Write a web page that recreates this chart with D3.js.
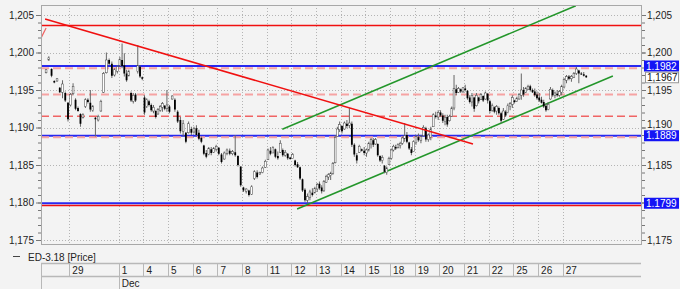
<!DOCTYPE html>
<html>
<head>
<meta charset="utf-8">
<script src="https://cdn.jsdelivr.net/npm/d3@7"></script>
<style>
  body { margin: 0; background: #f3f3f3; }
  svg { display: block; font-family: "Liberation Sans", Arial, sans-serif; }
</style>
</head>
<body>
<svg id="chart" width="680" height="289"></svg>
<script>
// trading days shown (first is partial, "30" has no label on the axis)
const dayLabels = ["28", "29", "30", "1", "4", "5", "6", "7", "8", "11", "12", "13", "14", "15", "18", "19", "20", "21", "22", "25", "26", "27"];
const dayCounts = [9, 10, 9, 11, 11, 9, 10, 9, 9, 10, 10, 11, 10, 11, 11, 10, 11, 11, 11, 11, 11, 10];
const hiddenDays = ["28", "30"];
const monthLabel = "Dec";
const monthDay = "1";

const open = [
  1.1973, 1.1990, 1.1978, 1.1962, 1.1962, 1.1953, 1.1947, 1.1946, 1.1933,
  1.1930, 1.1945, 1.1937, 1.1926, 1.1918, 1.1913, 1.1928, 1.1937, 1.1933, 1.1923,
  1.1913, 1.1910, 1.1922, 1.1947, 1.1973, 1.1990, 1.1985, 1.1970, 1.1975,
  1.1982, 1.1990, 1.1983, 1.1972, 1.1969, 1.1946, 1.1935, 1.1944, 1.1975, 1.1981, 1.1967,
  1.1940, 1.1928, 1.1935, 1.1930, 1.1922, 1.1922, 1.1918, 1.1923, 1.1927, 1.1929, 1.1925,
  1.1928, 1.1938, 1.1937, 1.1921, 1.1910, 1.1895, 1.1893, 1.1893, 1.1898,
  1.1894, 1.1899, 1.1893, 1.1886, 1.1876, 1.1866, 1.1864, 1.1871, 1.1867, 1.1871,
  1.1873, 1.1864, 1.1858, 1.1865, 1.1869, 1.1865, 1.1867, 1.1862, 1.1848,
  1.1820, 1.1815, 1.1816, 1.1811, 1.1832, 1.1840, 1.1838, 1.1840, 1.1847,
  1.1857, 1.1869, 1.1866, 1.1871, 1.1862, 1.1867, 1.1870, 1.1863, 1.1865, 1.1860,
  1.1859, 1.1856, 1.1851, 1.1847, 1.1831, 1.1817, 1.1803, 1.1807, 1.1813, 1.1813,
  1.1818, 1.1825, 1.1820, 1.1816, 1.1827, 1.1834, 1.1836, 1.1839, 1.1853, 1.1888, 1.1897,
  1.1902, 1.1898, 1.1905, 1.1903, 1.1905, 1.1877, 1.1863, 1.1867, 1.1871, 1.1869,
  1.1866, 1.1870, 1.1878, 1.1883, 1.1878, 1.1878, 1.1862, 1.1856, 1.1849, 1.1840, 1.1851,
  1.1859, 1.1870, 1.1874, 1.1873, 1.1876, 1.1879, 1.1885, 1.1890, 1.1880, 1.1871, 1.1868,
  1.1880, 1.1887, 1.1883, 1.1889, 1.1899, 1.1884, 1.1887, 1.1901, 1.1916, 1.1914,
  1.1920, 1.1916, 1.1908, 1.1914, 1.1909, 1.1915, 1.1926, 1.1951, 1.1947, 1.1951, 1.1948,
  1.1952, 1.1949, 1.1940, 1.1934, 1.1940, 1.1929, 1.1940, 1.1937, 1.1942, 1.1938, 1.1945,
  1.1935, 1.1923, 1.1927, 1.1922, 1.1926, 1.1919, 1.1911, 1.1921, 1.1920, 1.1928, 1.1931,
  1.1936, 1.1935, 1.1938, 1.1943, 1.1950, 1.1947, 1.1951, 1.1955, 1.1950, 1.1948, 1.1944,
  1.1940, 1.1937, 1.1934, 1.1929, 1.1924, 1.1938, 1.1950, 1.1943, 1.1945, 1.1943, 1.1947,
  1.1954, 1.1963, 1.1968, 1.1965, 1.1967, 1.1972, 1.1976, 1.1972, 1.1971, 1.1969
];
const high = [
  1.1978, 1.1995, 1.1979, 1.1963, 1.1966, 1.1954, 1.1963, 1.1948, 1.1934,
  1.1946, 1.1959, 1.1939, 1.1928, 1.1919, 1.1919, 1.1939, 1.1939, 1.1950, 1.1930,
  1.1914, 1.1917, 1.1937, 1.1974, 1.2000, 1.1992, 1.1988, 1.1979, 1.1983,
  1.1994, 1.2012, 1.1999, 1.1977, 1.1977, 1.1948, 1.1946, 1.1946, 1.2010, 1.1983, 1.1968,
  1.1943, 1.1939, 1.1937, 1.1932, 1.1930, 1.1923, 1.1926, 1.1930, 1.1934, 1.1930, 1.1950,
  1.1930, 1.1943, 1.1939, 1.1923, 1.1914, 1.1910, 1.1894, 1.1908, 1.1901,
  1.1901, 1.1903, 1.1897, 1.1888, 1.1877, 1.1870, 1.1874, 1.1874, 1.1874, 1.1877,
  1.1874, 1.1866, 1.1868, 1.1872, 1.1872, 1.1870, 1.1890, 1.1863, 1.1848,
  1.1821, 1.1819, 1.1817, 1.1823, 1.1843, 1.1843, 1.1841, 1.1848, 1.1857,
  1.1872, 1.1874, 1.1875, 1.1872, 1.1868, 1.1883, 1.1872, 1.1870, 1.1866, 1.1861,
  1.1866, 1.1857, 1.1854, 1.1848, 1.1832, 1.1819, 1.1812, 1.1817, 1.1819, 1.1821,
  1.1826, 1.1828, 1.1823, 1.1830, 1.1837, 1.1839, 1.1841, 1.1854, 1.1890, 1.1901, 1.1908,
  1.1903, 1.1908, 1.1910, 1.1926, 1.1908, 1.1879, 1.1866, 1.1877, 1.1872, 1.1874,
  1.1872, 1.1881, 1.1886, 1.1886, 1.1886, 1.1879, 1.1863, 1.1863, 1.1850, 1.1848, 1.1861,
  1.1872, 1.1877, 1.1877, 1.1879, 1.1881, 1.1888, 1.1906, 1.1894, 1.1881, 1.1874, 1.1883,
  1.1890, 1.1892, 1.1890, 1.1903, 1.1901, 1.1892, 1.1901, 1.1919, 1.1921, 1.1923,
  1.1923, 1.1919, 1.1917, 1.1917, 1.1917, 1.1928, 1.1970, 1.1957, 1.1954, 1.1952, 1.1954,
  1.1957, 1.1950, 1.1943, 1.1946, 1.1941, 1.1946, 1.1941, 1.1946, 1.1943, 1.1948, 1.1946,
  1.1937, 1.1932, 1.1928, 1.1930, 1.1928, 1.1921, 1.1926, 1.1923, 1.1932, 1.1934, 1.1943,
  1.1937, 1.1941, 1.1946, 1.1972, 1.1954, 1.1954, 1.1957, 1.1957, 1.1952, 1.1952, 1.1948,
  1.1946, 1.1941, 1.1937, 1.1932, 1.1934, 1.1954, 1.1952, 1.1948, 1.1950, 1.1950, 1.1957,
  1.1966, 1.1970, 1.1970, 1.1970, 1.1974, 1.1981, 1.1977, 1.1974, 1.1974, 1.1970
];
const low = [
  1.1972, 1.1989, 1.1967, 1.1959, 1.1961, 1.1946, 1.1939, 1.1934, 1.1908,
  1.1928, 1.1943, 1.1923, 1.1921, 1.1901, 1.1912, 1.1926, 1.1932, 1.1921, 1.1921,
  1.1888, 1.1908, 1.1921, 1.1946, 1.1972, 1.1983, 1.1966, 1.1968, 1.1972,
  1.1981, 1.1979, 1.1968, 1.1961, 1.1968, 1.1934, 1.1932, 1.1934, 1.1972, 1.1966, 1.1963,
  1.1917, 1.1926, 1.1928, 1.1921, 1.1919, 1.1912, 1.1917, 1.1921, 1.1921, 1.1923, 1.1921,
  1.1919, 1.1937, 1.1921, 1.1906, 1.1892, 1.1888, 1.1879, 1.1892, 1.1890,
  1.1892, 1.1888, 1.1883, 1.1879, 1.1863, 1.1859, 1.1863, 1.1863, 1.1866, 1.1868,
  1.1863, 1.1852, 1.1857, 1.1863, 1.1863, 1.1863, 1.1861, 1.1848, 1.1821,
  1.1814, 1.1812, 1.1808, 1.1810, 1.1830, 1.1832, 1.1837, 1.1839, 1.1846,
  1.1857, 1.1863, 1.1866, 1.1859, 1.1857, 1.1866, 1.1861, 1.1861, 1.1857, 1.1857,
  1.1859, 1.1848, 1.1846, 1.1830, 1.1814, 1.1801, 1.1799, 1.1803, 1.1808, 1.1812,
  1.1814, 1.1817, 1.1812, 1.1814, 1.1826, 1.1830, 1.1830, 1.1837, 1.1852, 1.1888, 1.1894,
  1.1892, 1.1897, 1.1899, 1.1899, 1.1874, 1.1861, 1.1852, 1.1866, 1.1868, 1.1863,
  1.1861, 1.1868, 1.1872, 1.1874, 1.1877, 1.1861, 1.1854, 1.1852, 1.1839, 1.1837, 1.1850,
  1.1857, 1.1868, 1.1870, 1.1872, 1.1872, 1.1877, 1.1881, 1.1879, 1.1870, 1.1863, 1.1868,
  1.1877, 1.1881, 1.1879, 1.1888, 1.1881, 1.1881, 1.1883, 1.1901, 1.1912, 1.1910,
  1.1914, 1.1906, 1.1903, 1.1901, 1.1908, 1.1914, 1.1923, 1.1943, 1.1946, 1.1946, 1.1946,
  1.1948, 1.1937, 1.1932, 1.1928, 1.1921, 1.1928, 1.1932, 1.1937, 1.1934, 1.1937, 1.1932,
  1.1919, 1.1921, 1.1919, 1.1917, 1.1917, 1.1906, 1.1910, 1.1914, 1.1919, 1.1923, 1.1926,
  1.1932, 1.1934, 1.1937, 1.1937, 1.1941, 1.1946, 1.1950, 1.1948, 1.1946, 1.1941, 1.1937,
  1.1934, 1.1932, 1.1926, 1.1921, 1.1923, 1.1937, 1.1941, 1.1939, 1.1941, 1.1941, 1.1943,
  1.1952, 1.1959, 1.1963, 1.1961, 1.1966, 1.1970, 1.1959, 1.1970, 1.1968, 1.1966
];
const close = [
  1.1977, 1.1993, 1.1969, 1.1960, 1.1965, 1.1947, 1.1958, 1.1936, 1.1911,
  1.1944, 1.1955, 1.1925, 1.1922, 1.1905, 1.1917, 1.1937, 1.1934, 1.1924, 1.1928,
  1.1911, 1.1915, 1.1935, 1.1972, 1.1990, 1.1985, 1.1969, 1.1977, 1.1981,
  1.1991, 1.1982, 1.1972, 1.1963, 1.1975, 1.1936, 1.1943, 1.1936, 1.1983, 1.1968, 1.1965,
  1.1920, 1.1937, 1.1930, 1.1923, 1.1927, 1.1914, 1.1924, 1.1928, 1.1932, 1.1925, 1.1930,
  1.1921, 1.1942, 1.1924, 1.1908, 1.1895, 1.1905, 1.1881, 1.1905, 1.1893,
  1.1899, 1.1890, 1.1885, 1.1881, 1.1865, 1.1861, 1.1872, 1.1866, 1.1872, 1.1875,
  1.1865, 1.1854, 1.1866, 1.1870, 1.1865, 1.1868, 1.1863, 1.1850, 1.1823,
  1.1816, 1.1818, 1.1810, 1.1821, 1.1841, 1.1834, 1.1840, 1.1846, 1.1855,
  1.1870, 1.1865, 1.1873, 1.1861, 1.1859, 1.1879, 1.1863, 1.1867, 1.1859, 1.1858,
  1.1864, 1.1850, 1.1847, 1.1832, 1.1816, 1.1803, 1.1808, 1.1814, 1.1810, 1.1819,
  1.1824, 1.1819, 1.1815, 1.1828, 1.1835, 1.1837, 1.1839, 1.1852, 1.1887, 1.1898, 1.1904,
  1.1895, 1.1906, 1.1902, 1.1906, 1.1877, 1.1864, 1.1856, 1.1875, 1.1869, 1.1866,
  1.1870, 1.1879, 1.1884, 1.1877, 1.1884, 1.1863, 1.1856, 1.1860, 1.1841, 1.1846, 1.1859,
  1.1870, 1.1875, 1.1872, 1.1877, 1.1879, 1.1886, 1.1889, 1.1881, 1.1872, 1.1866, 1.1881,
  1.1888, 1.1883, 1.1888, 1.1900, 1.1884, 1.1890, 1.1898, 1.1917, 1.1914, 1.1920,
  1.1916, 1.1909, 1.1913, 1.1904, 1.1915, 1.1926, 1.1952, 1.1946, 1.1952, 1.1948, 1.1953,
  1.1950, 1.1939, 1.1934, 1.1943, 1.1925, 1.1943, 1.1935, 1.1944, 1.1936, 1.1946, 1.1936,
  1.1922, 1.1929, 1.1921, 1.1928, 1.1919, 1.1909, 1.1922, 1.1916, 1.1929, 1.1932, 1.1940,
  1.1934, 1.1939, 1.1944, 1.1950, 1.1944, 1.1952, 1.1955, 1.1950, 1.1947, 1.1943, 1.1939,
  1.1936, 1.1933, 1.1928, 1.1923, 1.1931, 1.1951, 1.1943, 1.1946, 1.1943, 1.1948, 1.1955,
  1.1964, 1.1968, 1.1965, 1.1968, 1.1972, 1.1978, 1.1972, 1.1971, 1.1969, 1.1967
];

// horizontal drawing levels and their kind
const levelValues = [1.2036, 1.1982, 1.1979, 1.1944, 1.1915, 1.1889, 1.1887, 1.1799, 1.1796];
const levelKinds  = ["red", "blue", "pink", "pink", "redDash", "blue", "pink", "blue", "red"];

// trend lines: [day, price] pairs
const redTrend    = [[-0.985, 1.20447], [16.36, 1.1878]];
const redStub     = [[-1.147, 1.20193], [-0.944, 1.20327]];
const greenUpper  = [[8.63, 1.18976], [20.53, 1.20624]];
const greenLower  = [[9.23, 1.17913], [22.03, 1.19687]];

// highlighted right-axis labels
const markValues = [1.1982, 1.1889, 1.1799];
const lastPrice = 1.1967;
const yMajor = [1.175, 1.180, 1.185, 1.190, 1.195, 1.200, 1.205];
const yRightHidden = [1.180];
const legendText = "ED-3.18 [Price]";

const svg = d3.select("#chart");
const W = 680, H = 289;
const plot = {left: 41, right: 641, top: 5, bottom: 244};

svg.append("rect").attr("width", W).attr("height", H).attr("fill", "#f3f3f3");

const x = d3.scaleLinear().domain([-1.15, 23.17]).range([plot.left, plot.right]);
const y = d3.scaleLinear().domain([1.175, 1.205]).range([240, 15]);

const comma = d3.formatLocale({decimal: ",", thousands: ".", grouping: [3], currency: ["", ""]});
const fmt3 = comma.format(".3f");
const fmt4c = comma.format(".4f");
const fmt4 = d3.format(".4f");

// day start for every day, first day is the partial one before "29"
const dayStart = dayLabels.map((d, i) => i - 1);
const candles = [];
let n = 0;
dayLabels.forEach((d, i) => {
  for (let k = 0; k < dayCounts[i]; k++) {
    candles.push({t: dayStart[i] + (k + 0.5) / dayCounts[i], o: open[n], h: high[n], l: low[n], c: close[n]});
    n++;
  }
});

svg.append("clipPath").attr("id", "clip").append("rect")
  .attr("x", plot.left).attr("y", plot.top)
  .attr("width", plot.right - plot.left).attr("height", plot.bottom - plot.top);

// grid
const grid = svg.append("g").attr("stroke", "#b4b4b4").attr("stroke-dasharray", "1,2");
grid.selectAll("line.h").data(yMajor).join("line")
  .attr("x1", plot.left).attr("x2", plot.right)
  .attr("y1", d => Math.round(y(d)) + 0.5).attr("y2", d => Math.round(y(d)) + 0.5);
const labelled = dayLabels.map((d, i) => ({d, t: dayStart[i]})).filter(e => !hiddenDays.includes(e.d));
grid.selectAll("line.v").data(labelled).join("line")
  .attr("x1", e => Math.round(x(e.t)) + 0.5).attr("x2", e => Math.round(x(e.t)) + 0.5)
  .attr("y1", plot.top).attr("y2", plot.bottom);

const g = svg.append("g").attr("clip-path", "url(#clip)");

// horizontal levels
const levelStyle = {
  red:     {stroke: "#f01010", width: 1.5, dash: null},
  blue:    {stroke: "#2828f0", width: 2,   dash: null},
  pink:    {stroke: "#f6a3a3", width: 2,   dash: "8,4"},
  redDash: {stroke: "#f06464", width: 1.3, dash: "8,4"}
};
levelValues.forEach((v, i) => {
  const s = levelStyle[levelKinds[i]];
  g.append("line")
    .attr("x1", plot.left).attr("x2", plot.right)
    .attr("y1", y(v)).attr("y2", y(v))
    .attr("stroke", s.stroke).attr("stroke-width", s.width)
    .attr("stroke-dasharray", s.dash);
});

const line = d3.line().x(d => x(d[0])).y(d => y(d[1]));
g.append("path").attr("d", line(redStub)).attr("stroke", "#f06060").attr("stroke-width", 1.2).attr("fill", "none");
g.append("path").attr("d", line(greenUpper)).attr("stroke", "#23962a").attr("stroke-width", 1.5).attr("fill", "none");
g.append("path").attr("d", line(greenLower)).attr("stroke", "#23962a").attr("stroke-width", 1.5).attr("fill", "none");

// candles
const cg = g.append("g");
cg.selectAll("line.wick").data(candles).join("line")
  .attr("x1", d => x(d.t)).attr("x2", d => x(d.t))
  .attr("y1", d => y(d.h)).attr("y2", d => y(d.l))
  .attr("stroke", "#666").attr("stroke-width", 1);
cg.selectAll("rect").data(candles).join("rect")
  .attr("x", d => x(d.t) - 0.9).attr("width", 1.8)
  .attr("y", d => y(Math.max(d.o, d.c)))
  .attr("height", d => Math.max(1, Math.abs(y(d.o) - y(d.c))))
  .attr("fill", d => d.c < d.o ? "#000" : "#fff")
  .attr("stroke", d => d.c < d.o ? "none" : "#444")
  .attr("stroke-width", 0.5);

g.append("path").attr("d", line(redTrend)).attr("stroke", "#f01010").attr("stroke-width", 1.5).attr("fill", "none");

// frame
svg.append("rect")
  .attr("x", plot.left + 0.5).attr("y", plot.top + 0.5)
  .attr("width", plot.right - plot.left).attr("height", plot.bottom - plot.top)
  .attr("fill", "none").attr("stroke", "#a8a8a8");

// axes
const yMinor = d3.range(1175, 1206).map(v => v / 1000);
function styleAxis(sel) {
  sel.select(".domain").remove();
  sel.selectAll("line").attr("stroke", "#777");
  sel.selectAll("text").attr("fill", "#222").attr("font-size", 10);
}
svg.append("g").attr("transform", `translate(${plot.left},0)`)
  .call(d3.axisLeft(y).tickValues(yMinor).tickSize(3).tickFormat(""))
  .call(styleAxis);
svg.append("g").attr("transform", `translate(${plot.left},0)`)
  .call(d3.axisLeft(y).tickValues(yMajor).tickSize(5).tickPadding(2).tickFormat(fmt3))
  .call(styleAxis);
svg.append("g").attr("transform", `translate(${plot.right + 1},0)`)
  .call(d3.axisRight(y).tickValues(yMinor).tickSize(3).tickFormat(""))
  .call(styleAxis);
const rightAxis = svg.append("g").attr("transform", `translate(${plot.right + 1},0)`)
  .call(d3.axisRight(y).tickValues(yMajor).tickSize(4).tickPadding(1)
    .tickFormat(v => yRightHidden.includes(v) ? "" : fmt3(v)))
  .call(styleAxis);
// the 1,190 label sits just above the 1.1889 box
rightAxis.selectAll(".tick text").filter(v => v === 1.190).attr("dy", "-0.05em");

// highlighted price boxes
const mk = svg.append("g").attr("font-size", 10);
markValues.forEach(v => {
  mk.append("rect").attr("x", 644).attr("y", y(v) - 5.5).attr("width", 35).attr("height", 11).attr("fill", "#1414f5");
  mk.append("text").attr("x", 646).attr("y", y(v) + 3.6).attr("fill", "#fff").text(fmt4(v));
});
mk.append("rect").attr("x", 645.5).attr("y", y(lastPrice) - 5).attr("width", 33).attr("height", 10.5)
  .attr("fill", "#fff").attr("stroke", "#999");
mk.append("text").attr("x", 647).attr("y", y(lastPrice) + 3.6).attr("fill", "#111").text(fmt4c(lastPrice));

// legend
svg.append("line").attr("x1", 13).attr("x2", 20).attr("y1", 256.5).attr("y2", 256.5).attr("stroke", "#444");
svg.append("text").attr("x", 28).attr("y", 260.5).attr("font-size", 10).attr("fill", "#222").text(legendText);

// date axis table
const tb = svg.append("g");
const row1 = 263.5, row2 = 276.5;
tb.selectAll("line.hr").data([row1, row2]).join("line")
  .attr("x1", plot.left).attr("x2", plot.right).attr("y1", d => d).attr("y2", d => d)
  .attr("stroke", "#b8b8b8").attr("stroke-width", 1.5);
tb.append("line").attr("x1", plot.left + 0.5).attr("x2", plot.left + 0.5).attr("y1", row1).attr("y2", H)
  .attr("stroke", "#b8b8b8");
tb.selectAll("line.sep").data(labelled).join("line")
  .attr("x1", e => Math.round(x(e.t)) + 0.5).attr("x2", e => Math.round(x(e.t)) + 0.5)
  .attr("y1", row1).attr("y2", row2).attr("stroke", "#b8b8b8");
tb.selectAll("text.day").data(labelled).join("text")
  .attr("x", e => x(e.t) + 3).attr("y", 273.5)
  .attr("font-size", 10).attr("fill", "#222").text(e => e.d);
const mIdx = dayLabels.indexOf(monthDay);
tb.append("line").attr("x1", Math.round(x(dayStart[mIdx])) + 0.5).attr("x2", Math.round(x(dayStart[mIdx])) + 0.5)
  .attr("y1", row2).attr("y2", H).attr("stroke", "#b8b8b8");
tb.append("text").attr("x", x(dayStart[mIdx]) + 3).attr("y", 286.5)
  .attr("font-size", 10).attr("fill", "#222").text(monthLabel);
</script>
</body>
</html>
